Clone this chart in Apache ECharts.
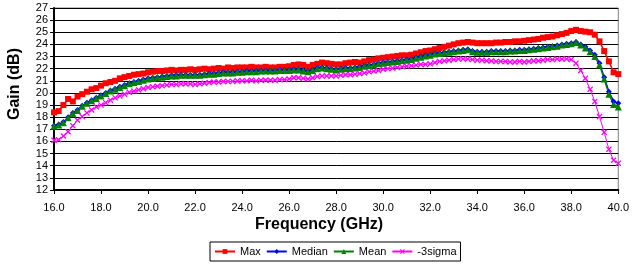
<!DOCTYPE html>
<html><head><meta charset="utf-8">
<script src="https://cdn.jsdelivr.net/npm/echarts@6/dist/echarts.min.js"></script>
<style>html,body{margin:0;padding:0;background:#fff}#c{width:632px;height:264px}</style>
</head><body><div id="c"></div>
<script>
var freq = [16.0,16.2,16.4,16.6,16.8,17.0,17.2,17.4,17.6,17.8,18.0,18.2,18.4,18.6,18.8,19.0,19.2,19.4,19.6,19.8,
20.0,20.2,20.4,20.6,20.8,21.0,21.2,21.4,21.6,21.8,22.0,22.2,22.4,22.6,22.8,23.0,23.2,23.4,23.6,23.8,
24.0,24.2,24.4,24.6,24.8,25.0,25.2,25.4,25.6,25.8,26.0,26.2,26.4,26.6,26.8,27.0,27.2,27.4,27.6,27.8,
28.0,28.2,28.4,28.6,28.8,29.0,29.2,29.4,29.6,29.8,30.0,30.2,30.4,30.6,30.8,31.0,31.2,31.4,31.6,31.8,
32.0,32.2,32.4,32.6,32.8,33.0,33.2,33.4,33.6,33.8,34.0,34.2,34.4,34.6,34.8,35.0,35.2,35.4,35.6,35.8,
36.0,36.2,36.4,36.6,36.8,37.0,37.2,37.4,37.6,37.8,38.0,38.2,38.4,38.6,38.8,39.0,39.2,39.4,39.6,39.8,40.0];

var maxVals = [18.4,18.5,19.0,19.5,19.3,19.7,19.9,20.1,20.3,20.4,20.6,20.8,20.9,21.0,21.2,21.3,21.4,21.5,21.55,21.6,
21.7,21.75,21.8,21.8,21.85,21.9,21.85,21.9,21.9,21.95,21.9,21.95,22.0,21.95,22.0,22.05,22.0,22.1,22.05,22.1,
22.1,22.1,22.15,22.1,22.1,22.15,22.1,22.1,22.15,22.15,22.2,22.3,22.35,22.3,22.15,22.3,22.4,22.5,22.45,22.4,
22.35,22.35,22.45,22.5,22.55,22.5,22.6,22.7,22.75,22.85,22.9,22.95,23.0,23.05,23.1,23.1,23.15,23.25,23.35,23.45,
23.5,23.6,23.7,23.8,23.9,24.0,24.1,24.15,24.2,24.15,24.1,24.1,24.1,24.1,24.15,24.15,24.2,24.2,24.25,24.25,
24.3,24.35,24.4,24.45,24.55,24.6,24.65,24.75,24.85,24.95,25.1,25.2,25.1,25.05,25.0,24.8,24.25,23.45,22.6,21.7,21.55];

var medianVals = [17.3,17.4,17.6,18.0,18.35,18.6,18.95,19.2,19.4,19.6,19.8,20.0,20.2,20.35,20.5,20.65,20.8,20.9,21.0,21.1,
21.2,21.25,21.3,21.35,21.4,21.45,21.45,21.5,21.5,21.5,21.5,21.5,21.55,21.6,21.6,21.65,21.7,21.7,21.7,21.75,
21.75,21.8,21.8,21.8,21.85,21.85,21.85,21.85,21.9,21.9,21.9,21.95,21.95,21.85,21.8,21.9,22.05,22.1,22.05,22.0,
21.95,22.0,22.05,22.05,22.1,22.15,22.25,22.3,22.35,22.45,22.5,22.55,22.6,22.65,22.7,22.75,22.8,22.9,23.0,23.1,
23.15,23.25,23.3,23.35,23.4,23.45,23.5,23.55,23.6,23.45,23.4,23.4,23.4,23.45,23.45,23.45,23.45,23.5,23.5,23.55,
23.55,23.6,23.65,23.7,23.75,23.8,23.85,23.9,24.0,24.05,24.1,24.2,24.0,23.8,23.5,23.15,22.45,21.3,20.1,19.3,19.15];

var meanVals = [17.25,17.35,17.55,17.95,18.3,18.55,18.9,19.15,19.35,19.55,19.75,19.95,20.15,20.3,20.45,20.6,20.75,20.85,20.95,21.05,
21.15,21.2,21.25,21.3,21.35,21.4,21.4,21.45,21.45,21.45,21.45,21.45,21.5,21.55,21.55,21.6,21.65,21.65,21.65,21.7,
21.7,21.75,21.75,21.75,21.8,21.8,21.8,21.8,21.85,21.85,21.85,21.9,21.9,21.8,21.75,21.85,22.0,22.05,22.0,21.95,
21.9,21.95,22.0,22.0,22.05,22.1,22.2,22.25,22.3,22.4,22.45,22.5,22.55,22.6,22.65,22.7,22.75,22.85,22.95,23.05,
23.1,23.2,23.25,23.3,23.35,23.4,23.45,23.5,23.55,23.4,23.35,23.35,23.35,23.4,23.4,23.4,23.4,23.45,23.45,23.5,
23.5,23.55,23.6,23.65,23.7,23.75,23.8,23.85,23.95,24.0,24.05,24.15,23.95,23.7,23.4,23.0,22.3,21.15,19.9,19.05,18.85];

var sigmaVals = [16.1,16.15,16.45,16.8,17.3,17.75,18.05,18.35,18.6,18.85,19.0,19.2,19.4,19.6,19.75,19.9,20.05,20.15,20.25,20.35,
20.45,20.5,20.55,20.6,20.65,20.7,20.7,20.75,20.75,20.75,20.7,20.75,20.8,20.85,20.9,20.9,20.95,20.95,20.95,21.0,
21.0,21.0,21.05,21.0,21.05,21.05,21.05,21.05,21.1,21.1,21.15,21.25,21.25,21.2,21.15,21.25,21.35,21.4,21.4,21.4,
21.4,21.45,21.5,21.5,21.55,21.6,21.65,21.75,21.8,21.85,21.95,22.0,22.05,22.1,22.15,22.2,22.25,22.3,22.35,22.35,
22.4,22.5,22.6,22.65,22.7,22.75,22.8,22.8,22.8,22.75,22.7,22.7,22.65,22.65,22.6,22.6,22.6,22.55,22.55,22.6,
22.55,22.6,22.65,22.65,22.7,22.75,22.75,22.8,22.8,22.8,22.75,22.45,21.85,21.2,20.3,19.3,18.05,16.75,15.35,14.45,14.2];

var seriesNames = ['Max','Median','Mean','-3sigma'];
var xTitle = 'Frequency (GHz)';
var yTitle = 'Gain (dB)';

function pairs(vals){ return vals.map(function(v,i){ return [freq[i], v]; }); }

var FONT = 'Arial, "Liberation Sans", sans-serif';
var xSym = 'path://M0,1.5L1.5,0L5,3.5L8.5,0L10,1.5L6.5,5L10,8.5L8.5,10L5,6.5L1.5,10L0,8.5L3.5,5Z';

var chart = echarts.init(document.getElementById('c'), null, {renderer:'canvas'});
chart.setOption({
  animation:false,
  backgroundColor:'#fff',
  textStyle:{fontFamily:FONT},
  grid:{left:54, right:12, top:8, bottom:74, show:true, borderColor:'#808080', borderWidth:1},
  xAxis:{type:'value', min:16, max:40, interval:2,
    axisLine:{lineStyle:{color:'#000', width:2}},
    axisTick:{show:true, length:4, lineStyle:{color:'#000', width:1}},
    axisLabel:{fontSize:11, color:'#000', margin:12, fontFamily:FONT, formatter:function(v){return v.toFixed(1);}},
    splitLine:{show:false}},
  yAxis:{type:'value', min:12, max:27, interval:1,
    axisLine:{show:true, lineStyle:{color:'#000', width:2}},
    axisTick:{show:true, length:4, lineStyle:{color:'#000', width:1}},
    axisLabel:{fontSize:11, color:'#000', margin:6, fontFamily:FONT},
    splitLine:{show:true, lineStyle:{color:'#000', width:1}}},
  legend:{left:210, top:242, orient:'horizontal', data:seriesNames,
    borderColor:'#000', borderWidth:1, padding:[4,4,4,4], itemGap:5, itemWidth:20, itemHeight:6,
    textStyle:{fontSize:11, color:'#000', fontFamily:FONT}},
  graphic:[
    {type:'text', x:319, y:225, style:{text:xTitle, font:'bold 16px '+FONT, fill:'#000', textAlign:'center', textVerticalAlign:'middle'}},
    {type:'text', x:15, y:84, rotation:Math.PI/2, style:{text:yTitle, font:'bold 16px '+FONT, fill:'#000', textAlign:'center', textVerticalAlign:'middle'}}
  ],
  series:[
    {name:'Max', type:'line', data:pairs(maxVals), symbol:'rect', symbolSize:6, clip:false,
      itemStyle:{color:'#ff0000'}, lineStyle:{color:'#ff0000', width:1.5}},
    {name:'Median', type:'line', data:pairs(medianVals), symbol:'diamond', symbolSize:6, clip:false,
      itemStyle:{color:'#0000ff'}, lineStyle:{color:'#0000ff', width:1.5}},
    {name:'Mean', type:'line', data:pairs(meanVals), symbol:'triangle', symbolSize:7, clip:false,
      itemStyle:{color:'#008000'}, lineStyle:{color:'#008000', width:1.5}},
    {name:'-3sigma', type:'line', data:pairs(sigmaVals), symbol:xSym, symbolSize:6, clip:false,
      itemStyle:{color:'#ff00ff'}, lineStyle:{color:'#ff00ff', width:1}}
  ]
});
</script></body></html>
